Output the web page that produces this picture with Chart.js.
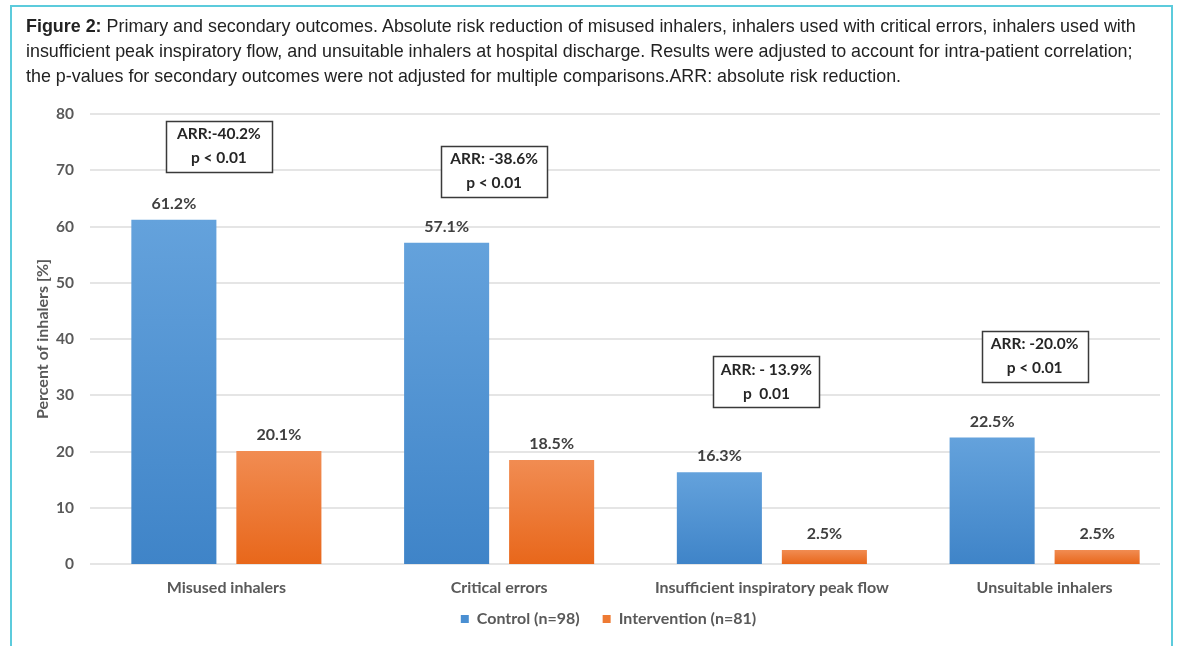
<!DOCTYPE html>
<html>
<head>
<meta charset="utf-8">
<script src="https://cdn.jsdelivr.net/npm/chart.js@4/dist/chart.umd.min.js"></script>
<style>
  html, body { margin: 0; padding: 0; background: #fff; overflow: hidden; width: 1178px; height: 646px; }
  #frame { position: absolute; left: 10px; top: 5px; width: 1163px; height: 700px; border: 2px solid #5ccbdc; border-bottom: none; box-sizing: border-box; z-index: 2; pointer-events: none; }
  #caption { position: absolute; left: 26px; top: 14px; font-family: "Liberation Sans", Arial, sans-serif; font-size: 17.9px; line-height: 25px; color: #222; white-space: nowrap; z-index: 3; }
  #caption b { font-weight: bold; }
  #wrap { position: absolute; left: 0; top: 100px; width: 1181px; height: 560px; }
</style>
</head>
<body>
<div id="frame"></div>
<div id="caption"><b>Figure 2:</b> Primary and secondary outcomes. Absolute risk reduction of misused inhalers, inhalers used with critical errors, inhalers used with<br>insufficient peak inspiratory flow, and unsuitable inhalers at hospital discharge. Results were adjusted to account for intra-patient correlation;<br>the p-values for secondary outcomes were not adjusted for multiple comparisons.ARR: absolute risk reduction.</div>
<div id="wrap"><canvas id="chart"></canvas></div>
<script>
// ---- data ----
const categories = ['Misused inhalers', 'Critical errors', 'Insufficient inspiratory peak flow', 'Unsuitable inhalers'];
const seriesNames = ['Control (n=98)', 'Intervention (n=81)'];
const controlValues = [61.2, 57.1, 16.3, 22.5];
const interventionValues = [20.1, 18.5, 2.5, 2.5];
const arrLabels = ['ARR:-40.2%', 'ARR: -38.6%', 'ARR: - 13.9%', 'ARR: -20.0%'];
const pLabels = ['p < 0.01', 'p < 0.01', 'p  0.01', 'p < 0.01'];
const yAxisTitle = 'Percent of inhalers [%]';
const yMin = 0, yMax = 80, yStep = 10;

// ---- callout box placement (value level on y axis, horizontal nudge in px) ----
const calloutLevels = [74.3, 69.8, 32.4, 36.9];
const calloutNudge = [-7.5, -5, -5.5, -10];

const FONT = 'Lato, "Open Sans", sans-serif';
const TEXT_GREY = '#595959';
const LEGEND_FONT_SIZE = 16;
const seriesColors = [
  { top: '#64a2dc', bottom: '#3f84c8', solid: '#4a8fd2' },
  { top: '#f18c52', bottom: '#e8671b', solid: '#ee7a33' }
];

function barFill(idx) {
  return (c) => {
    const chart = c.chart;
    const col = seriesColors[idx];
    if (!chart.chartArea || c.raw == null) return col.solid;
    const y = chart.scales.y;
    const top = y.getPixelForValue(c.raw);
    const bottom = y.getPixelForValue(0);
    const g = chart.ctx.createLinearGradient(0, top, 0, bottom);
    g.addColorStop(0, col.top);
    g.addColorStop(1, col.bottom);
    return g;
  };
}

// horizontal grid lines, stopping short of the right edge
const gridRightInset = 21;
const hGrid = {
  id: 'hGrid',
  beforeDatasetsDraw(chart) {
    const { ctx, chartArea } = chart;
    const y = chart.scales.y;
    ctx.save();
    ctx.strokeStyle = '#dcdcdc';
    ctx.lineWidth = 1.5;
    y.ticks.forEach(t => {
      const py = Math.round(y.getPixelForValue(t.value));
      ctx.beginPath();
      ctx.moveTo(chartArea.left, py);
      ctx.lineTo(chartArea.right - gridRightInset, py);
      ctx.stroke();
    });
    ctx.restore();
  }
};

// legend row sits just under the category labels, slightly right of centre
const legendRowY = 519;
const legendShiftX = 18;
const legendPlace = {
  id: 'legendPlace',
  afterLayout(chart) {
    const lg = chart.legend;
    if (!lg) return;
    const h = lg.bottom - lg.top;
    lg.top = legendRowY - lg.options.labels.padding - LEGEND_FONT_SIZE / 2;
    lg.bottom = lg.top + h;
    lg.left += legendShiftX;
    lg.right += legendShiftX;
  }
};

// value labels above bars + ARR callout boxes
const annotate = {
  id: 'annotate',
  afterDatasetsDraw(chart) {
    const { ctx } = chart;
    ctx.save();
    ctx.font = 'bold 16px ' + FONT;
    ctx.fillStyle = '#404040';
    ctx.textAlign = 'center';
    ctx.textBaseline = 'bottom';
    chart.data.datasets.forEach((ds, di) => {
      chart.getDatasetMeta(di).data.forEach((bar, i) => {
        ctx.fillText(ds.data[i].toFixed(1) + '%', bar.x, bar.y - 8);
      });
    });

    const x = chart.scales.x, y = chart.scales.y;
    const boxW = 106, boxH = 51;
    categories.forEach((cat, i) => {
      const cx = x.getPixelForValue(i) + calloutNudge[i];
      const cy = y.getPixelForValue(calloutLevels[i]);
      const left = Math.round(cx - boxW / 2) + 0.5;
      const top = Math.round(cy - boxH / 2) + 0.5;
      ctx.fillStyle = '#ffffff';
      ctx.fillRect(left, top, boxW, boxH);
      ctx.strokeStyle = '#3a3a3a';
      ctx.lineWidth = 1.5;
      ctx.strokeRect(left, top, boxW, boxH);
      ctx.fillStyle = '#262626';
      ctx.font = 'bold 15.5px ' + FONT;
      ctx.textBaseline = 'middle';
      ctx.fillText(arrLabels[i], cx, cy - 12);
      ctx.fillText(pLabels[i], cx, cy + 12);
    });
    ctx.restore();
  }
};

new Chart(document.getElementById('chart'), {
  type: 'bar',
  data: {
    labels: categories,
    datasets: [
      { label: seriesNames[0], data: controlValues, backgroundColor: barFill(0), categoryPercentage: 0.77, barPercentage: 0.81 },
      { label: seriesNames[1], data: interventionValues, backgroundColor: barFill(1), categoryPercentage: 0.77, barPercentage: 0.81 }
    ]
  },
  options: {
    responsive: true,
    maintainAspectRatio: false,
    animation: false,
    layout: { padding: { top: 14, right: 0, bottom: 7, left: 0 } },
    plugins: {
      tooltip: { enabled: false },
      legend: {
        position: 'bottom',
        labels: {
          font: { family: FONT, size: LEGEND_FONT_SIZE, weight: 'bold' },
          color: TEXT_GREY,
          boxWidth: 8,
          boxHeight: 8,
          padding: 23,
          generateLabels(chart) {
            return chart.data.datasets.map((ds, i) => ({
              text: ds.label,
              fillStyle: seriesColors[i].solid,
              strokeStyle: seriesColors[i].solid,
              lineWidth: 0,
              datasetIndex: i,
              hidden: false,
              fontColor: TEXT_GREY
            }));
          }
        }
      }
    },
    scales: {
      x: {
        grid: { display: false, drawTicks: false },
        border: { display: false },
        ticks: { color: TEXT_GREY, font: { family: FONT, size: 16, weight: 'bold' }, padding: 14, maxRotation: 0 },
        afterFit(scale) { scale.height = 40; }
      },
      y: {
        min: yMin,
        max: yMax,
        ticks: { stepSize: yStep, color: TEXT_GREY, font: { family: FONT, size: 15.5, weight: 'bold' }, padding: 16 },
        grid: { display: false, drawTicks: false },
        border: { display: false },
        title: { display: true, text: yAxisTitle, color: TEXT_GREY, font: { family: FONT, size: 16, weight: 'bold' }, padding: { top: 33, bottom: 0 } },
        afterFit(scale) { scale.width = 90; scale.paddingTop = 0; scale.paddingBottom = 0; }
      }
    }
  },
  plugins: [hGrid, legendPlace, annotate]
});
</script>
</body>
</html>
